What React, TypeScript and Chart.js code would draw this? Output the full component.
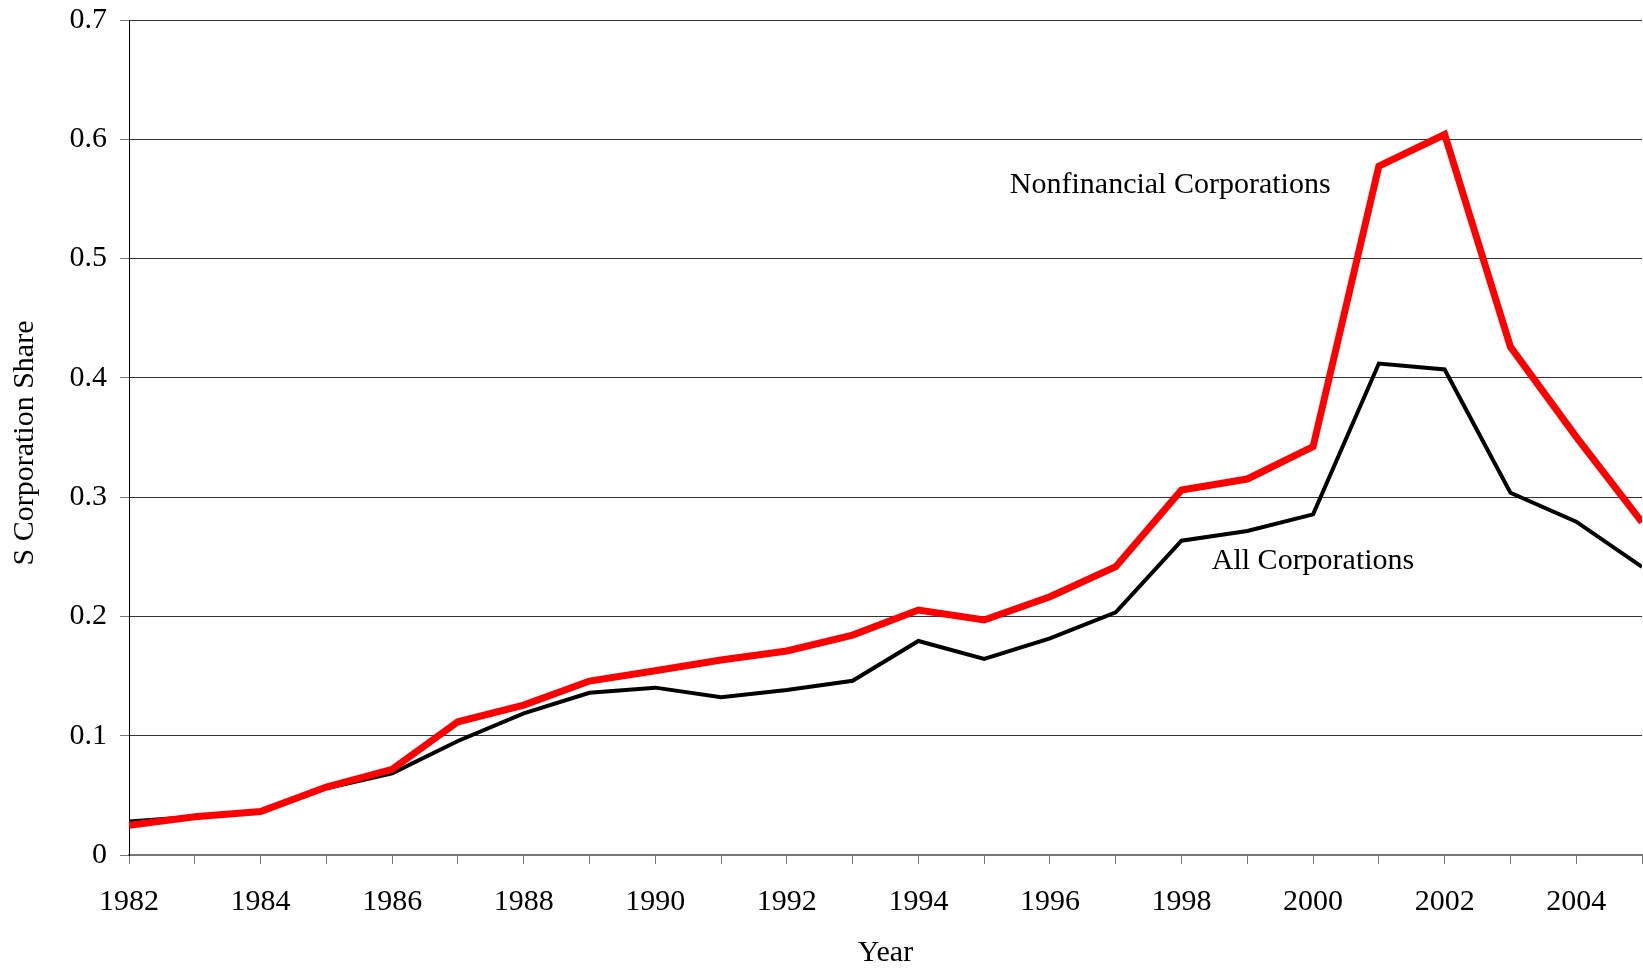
import React, { useEffect, useRef } from 'react';
import { Chart, registerables } from 'chart.js';

Chart.register(...registerables);

// ---- Data ----
const years = [
  1982, 1983, 1984, 1985, 1986, 1987, 1988, 1989, 1990, 1991, 1992, 1993,
  1994, 1995, 1996, 1997, 1998, 1999, 2000, 2001, 2002, 2003, 2004, 2005,
];

const allCorporations = [
  0.028, 0.032, 0.036, 0.056, 0.0685, 0.0956, 0.1188, 0.136, 0.1403, 0.1322,
  0.1383, 0.1461, 0.1794, 0.1643, 0.1816, 0.2034, 0.2635, 0.2716, 0.2856,
  0.412, 0.407, 0.3037, 0.2794, 0.2415,
];

const nonfinancialCorporations = [
  0.025, 0.032, 0.0365, 0.057, 0.0718, 0.1117, 0.1257, 0.1458, 0.1545, 0.1635,
  0.171, 0.1844, 0.2054, 0.197, 0.2165, 0.2417, 0.306, 0.3152, 0.3423, 0.5775,
  0.604, 0.426, 0.3506, 0.279,
];

const labelledYears = [
  1982, 1984, 1986, 1988, 1990, 1992, 1994, 1996, 1998, 2000, 2002, 2004,
];

const yTickValues = [0, 0.1, 0.2, 0.3, 0.4, 0.5, 0.6, 0.7];

const seriesNames = ['Nonfinancial Corporations', 'All Corporations'];
// label anchor points in data units (year, share) – text baseline, left aligned
const labelYears = [1995.39, 1998.46];
const labelShares = [0.5552, 0.2395];

const yAxisTitle = 'S Corporation Share';
const xAxisTitle = 'Year';

const FONT_FAMILY = '"Liberation Serif", "Times New Roman", Times, serif';
const FONT_SIZE = 30;

const textPlugin = {
  id: 'seriesLabels',
  afterDatasetsDraw(chart: any) {
    const { ctx, scales, chartArea } = chart;
    const xs = scales.x;
    const ys = scales.y;
    ctx.save();
    ctx.font = `${FONT_SIZE}px ${FONT_FAMILY}`;
    ctx.fillStyle = '#000';
    ctx.textAlign = 'left';
    ctx.textBaseline = 'alphabetic';
    seriesNames.forEach((name, i) => {
      ctx.fillText(
        name,
        xs.getPixelForValue(labelYears[i]),
        ys.getPixelForValue(labelShares[i])
      );
    });
    // rotated y-axis title
    ctx.translate(25, (chartArea.top + chartArea.bottom) / 2 + 5.5);
    ctx.rotate(-Math.PI / 2);
    ctx.textAlign = 'center';
    ctx.textBaseline = 'middle';
    ctx.fillText(yAxisTitle, 0, 0);
    ctx.restore();
  },
};

export default function App() {
  const canvasRef = useRef<HTMLCanvasElement | null>(null);

  useEffect(() => {
    const canvas = canvasRef.current;
    if (!canvas) return;
    const font = { family: FONT_FAMILY, size: FONT_SIZE };

    const chart = new Chart(canvas, {
      type: 'line',
      data: {
        datasets: [
          {
            label: seriesNames[0],
            data: years.map((yr, i) => ({ x: yr, y: nonfinancialCorporations[i] })),
            borderColor: '#ff0000',
            backgroundColor: '#ff0000',
            borderWidth: 7,
            pointRadius: 0,
            tension: 0,
            borderJoinStyle: 'miter',
            borderCapStyle: 'butt',
            fill: false,
          },
          {
            label: seriesNames[1],
            data: years.map((yr, i) => ({ x: yr, y: allCorporations[i] })),
            borderColor: '#000000',
            backgroundColor: '#000000',
            borderWidth: 4,
            pointRadius: 0,
            tension: 0,
            borderJoinStyle: 'miter',
            borderCapStyle: 'butt',
            fill: false,
          },
        ],
      },
      options: {
        responsive: false,
        animation: false,
        devicePixelRatio: 1,
        layout: { padding: { left: 0, right: 1, top: 20, bottom: 0 } },
        plugins: {
          legend: { display: false },
          tooltip: { enabled: false },
        },
        scales: {
          x: {
            type: 'linear',
            min: years[0],
            max: years[years.length - 1],
            afterFit(scale: any) {
              scale.height = 114;
              scale.paddingLeft = 0;
              scale.paddingRight = 0;
              scale.paddingTop = 0;
              scale.paddingBottom = 0;
            },
            afterBuildTicks(scale: any) {
              scale.ticks = years.map((v) => ({ value: v }));
            },
            ticks: {
              autoSkip: false,
              maxRotation: 0,
              minRotation: 0,
              padding: 20,
              color: '#000',
              font,
              callback: (v: any) => (labelledYears.includes(Number(v)) ? String(v) : ''),
            },
            grid: {
              drawOnChartArea: false,
              drawTicks: true,
              tickLength: 9,
              tickColor: '#777',
              tickWidth: 1,
            },
            border: { display: true, color: '#777', width: 2 },
            title: {
              display: true,
              text: xAxisTitle,
              color: '#000',
              font: { family: FONT_FAMILY, size: FONT_SIZE, lineHeight: 1.05 },
              padding: { top: 0, bottom: 0 },
            },
          },
          y: {
            type: 'linear',
            min: 0,
            max: 0.7,
            afterFit(scale: any) {
              scale.width = 129;
              scale.paddingLeft = 0;
              scale.paddingRight = 0;
              scale.paddingTop = 0;
              scale.paddingBottom = 0;
            },
            afterBuildTicks(scale: any) {
              scale.ticks = yTickValues.map((v) => ({ value: v }));
            },
            ticks: {
              padding: 13,
              color: '#000',
              font,
              callback: (v: any) => (Number(v) === 0 ? '0' : Number(v).toFixed(1)),
            },
            grid: {
              color: '#333',
              lineWidth: 1,
              drawTicks: true,
              tickLength: 9,
              tickColor: '#777',
            },
            border: { display: true, color: '#000', width: 1 },
            title: { display: false },
          },
        },
      },
      plugins: [textPlugin],
    } as any);

    return () => chart.destroy();
  }, []);

  return (
    <div
      style={{
        position: 'fixed',
        left: 0,
        top: 0,
        width: 1643,
        height: 969,
        background: '#fff',
      }}
    >
      <canvas ref={canvasRef} width={1643} height={969} />
    </div>
  );
}
